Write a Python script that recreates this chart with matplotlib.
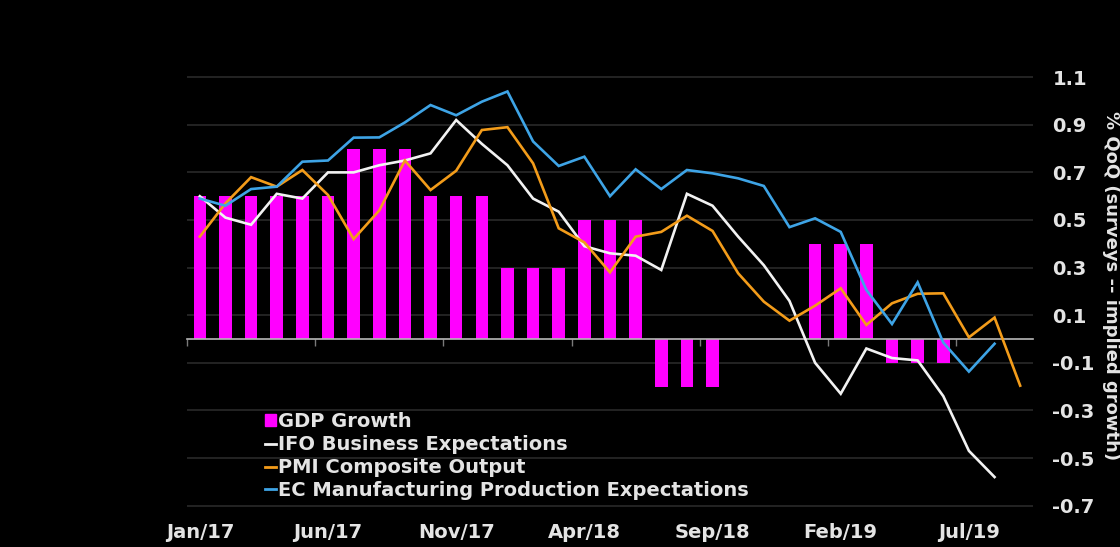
import matplotlib
matplotlib.use("Agg")
import matplotlib.pyplot as plt
from matplotlib.patches import Patch
from matplotlib.lines import Line2D

# ---- data ----
months = ["Jan/17", "Feb/17", "Mar/17", "Apr/17", "May/17", "Jun/17", "Jul/17", "Aug/17", "Sep/17",
          "Oct/17", "Nov/17", "Dec/17", "Jan/18", "Feb/18", "Mar/18", "Apr/18", "May/18", "Jun/18",
          "Jul/18", "Aug/18", "Sep/18", "Oct/18", "Nov/18", "Dec/18", "Jan/19", "Feb/19", "Mar/19",
          "Apr/19", "May/19", "Jun/19", "Jul/19", "Aug/19", "Sep/19"]
tick_labels = ["Jan/17", "Jun/17", "Nov/17", "Apr/18", "Sep/18", "Feb/19", "Jul/19"]

gdp_growth = [0.6, 0.6, 0.6, 0.6, 0.6, 0.6, 0.8, 0.8, 0.8, 0.6, 0.6, 0.6, 0.3, 0.3, 0.3,
              0.5, 0.5, 0.5, -0.2, -0.2, -0.2, 0.0, 0.0, 0.0, 0.4, 0.4, 0.4, -0.1, -0.1, -0.1]
ifo = [0.60, 0.51, 0.48, 0.61, 0.59, 0.70, 0.70, 0.73, 0.75, 0.78, 0.92, 0.82, 0.73, 0.59, 0.535,
       0.39, 0.36, 0.35, 0.29, 0.61, 0.56, 0.43, 0.31, 0.16, -0.10, -0.23, -0.04, -0.08, -0.09,
       -0.24, -0.47, -0.58]
pmi = [0.43, 0.57, 0.68, 0.64, 0.71, 0.605, 0.42, 0.54, 0.75, 0.626, 0.707, 0.878, 0.89, 0.738,
       0.465, 0.406, 0.28, 0.43, 0.45, 0.518, 0.454, 0.276, 0.157, 0.077, 0.14, 0.213, 0.059,
       0.15, 0.19, 0.192, 0.007, 0.09, -0.196]
ec = [0.59, 0.56, 0.63, 0.64, 0.745, 0.75, 0.846, 0.847, 0.91, 0.983, 0.94, 0.997, 1.04, 0.83,
      0.727, 0.766, 0.60, 0.713, 0.63, 0.71, 0.696, 0.675, 0.643, 0.47, 0.507, 0.45, 0.206,
      0.063, 0.238, -0.015, -0.137, -0.02]
yticks = [-0.7, -0.5, -0.3, -0.1, 0.1, 0.3, 0.5, 0.7, 0.9, 1.1]

# ---- style ----
BG = "#000000"
TXT = "#e4e4e4"
MAG = "#ff00ff"
WHITE = "#f2f2f2"
ORANGE = "#f39c1a"
BLUE = "#3ea4e6"
plt.rcParams["font.family"] = ["DejaVu Sans"]
plt.rcParams["font.weight"] = "bold"
FS = 14

fig = plt.figure(figsize=(11.2, 5.47), dpi=100, facecolor=BG)
ax = fig.add_axes([0.16696, 0.05393, 0.75536, 0.84845], facecolor=BG)

xi = list(range(len(months)))
ax.bar(xi[:len(gdp_growth)], gdp_growth, width=0.49, color=MAG, zorder=2)
ax.plot(xi[:len(ifo)], ifo, color=WHITE, lw=1.9, zorder=3, solid_joinstyle="miter")
ax.plot(xi[:len(pmi)], pmi, color=ORANGE, lw=1.9, zorder=4, solid_joinstyle="miter")
ax.plot(xi[:len(ec)], ec, color=BLUE, lw=1.9, zorder=5, solid_joinstyle="miter")

ax.set_xlim(-0.5, len(months) - 0.5)
ax.set_ylim(-0.75, 1.2)

# y axis on right
ax.yaxis.tick_right()
ax.set_yticks(yticks)
ax.set_yticklabels([f"{v:.1f}" for v in yticks])
ax.tick_params(axis="y", length=0, pad=14, labelsize=FS, labelcolor=TXT)
for lab in ax.get_yticklabels():
    lab.set_fontweight("bold")
ax.grid(axis="y", color="#262626", lw=1.3, zorder=0)
ax.set_axisbelow(True)
ax.yaxis.set_label_position("right")
ax.set_ylabel("% QoQ (surveys -- implied growth)", rotation=270, color=TXT,
              fontsize=13, fontweight="bold", labelpad=18)

# zero line with month tick marks
for s in ["top", "left", "right"]:
    ax.spines[s].set_visible(False)
ax.spines["bottom"].set_position(("data", 0))
ax.spines["bottom"].set_color("#b8b8b8")
ax.spines["bottom"].set_linewidth(1.2)
ax.spines["bottom"].set_zorder(2.5)
tick_idx = [months.index(t) for t in tick_labels]
ax.set_xticks([i - 0.5 for i in tick_idx])
ax.set_xticklabels([])
ax.tick_params(axis="x", length=5, width=1, color="#7a7a7a", direction="out")

# labels at bottom of axes
sec = ax.secondary_xaxis("bottom")
sec.set_xticks(tick_idx)
sec.set_xticklabels(tick_labels)
sec.tick_params(length=0, pad=4, labelsize=FS, labelcolor=TXT)
for lab in sec.get_xticklabels():
    lab.set_fontweight("bold")
sec.spines["bottom"].set_visible(False)

# legend
handles = [Patch(facecolor=MAG, edgecolor=MAG),
           Line2D([], [], color=WHITE, lw=2),
           Line2D([], [], color=ORANGE, lw=2),
           Line2D([], [], color=BLUE, lw=2)]
labels = ["GDP Growth", "IFO Business Expectations", "PMI Composite Output",
          "EC Manufacturing Production Expectations"]
leg = ax.legend(handles, labels, loc="upper left", bbox_to_anchor=(0.092, 0.227),
                frameon=False, fontsize=FS, handlelength=0.55, handleheight=0.55,
                handletextpad=0.15, labelspacing=0.2, borderpad=0, borderaxespad=0)
for t in leg.get_texts():
    t.set_color(TXT)
    t.set_fontweight("bold")

fig.savefig("out.png", dpi=100, facecolor=BG)
